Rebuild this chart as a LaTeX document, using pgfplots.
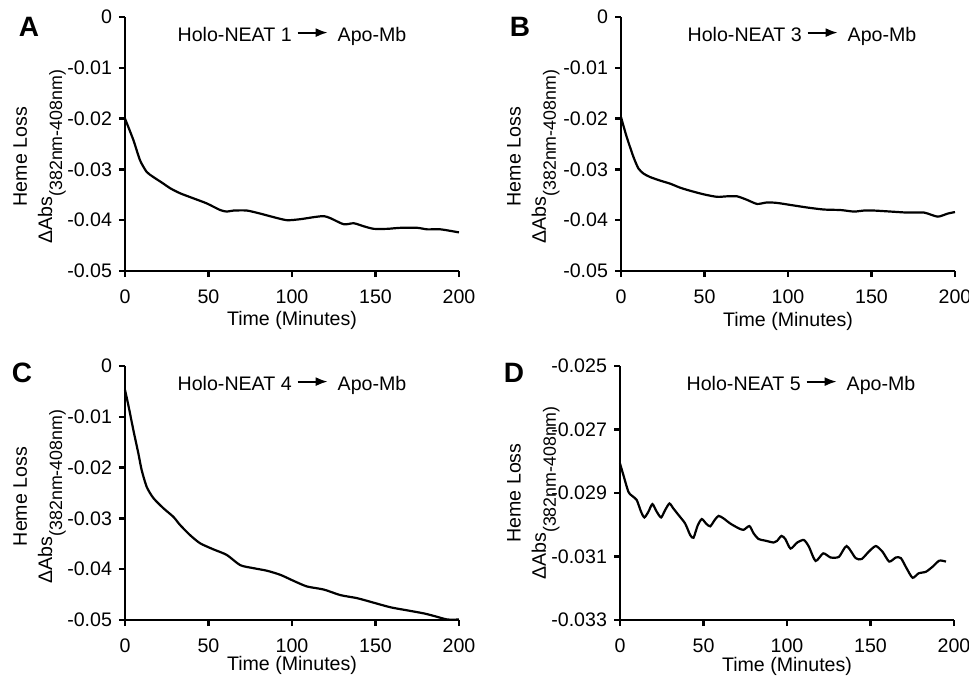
\documentclass[border=0pt]{standalone}
\usepackage{fontspec}
\setmainfont{Liberation Sans}
\usepackage{pgfplots}
\pgfplotsset{compat=1.18}
\usetikzlibrary{arrows.meta}

\newcommand{\fs}{\fontsize{9.8}{11.6}\selectfont}
\newcommand{\toarrow}{\hspace{2.5pt}\tikz[baseline=-4.5pt]\draw[line width=1pt,-{Latex[length=6pt,width=4.5pt]}](0,0)--(15pt,0);\hspace{4.5pt}}
\newcommand{\hemelabel}{Heme Loss\\[1pt]ΔAbs\raisebox{-5pt}{\fontsize{8.9}{10}\selectfont(382nm-408nm)}}

\pgfplotsset{
  every axis title shift=0pt,
  panel/.style={
    scale only axis, width=167pt, height=127pt,
    anchor=south west,
    axis lines=left, axis line style={-, line width=1.4pt},
    xmin=0, xmax=200,
    xtick={0,50,100,150,200}, xticklabels={0,50,100,150,200},
    scaled y ticks=false,
    tick align=outside, major tick length=3pt,
    tick style={line width=1.2pt, black},
    ticklabel style={font=\fs},
    xticklabel style={anchor=center, yshift=-10pt},
    xlabel={Time (Minutes)},
    ylabel={\hemelabel},
    label style={font=\fs},
    ylabel style={anchor=north, inner sep=0pt, align=center},
    title style={font=\fs, at={(0.5,1)}, anchor=north, inner sep=0pt, yshift=-5pt},
    clip=false,
  },
  ya/.style={ymin=-0.05, ymax=0,
    ytick={-0.05,-0.04,-0.03,-0.02,-0.01,0},
    yticklabels={-0.05,-0.04,-0.03,-0.02,-0.01,0}},
  curve/.style={black, line width=1.1pt, smooth, tension=0.4, mark=none},
}

\begin{document}
\begin{tikzpicture}
\useasboundingbox (0,0) rectangle (484.5pt,338.5pt);

% A
\begin{axis}[panel, ya, at={(62.5pt,203pt)},
  title={Holo-NEAT 1\toarrow Apo-Mb},
  xlabel style={at={(axis description cs:0.5,0)}, anchor=center, yshift=-24.5pt},
  ylabel style={at={(axis description cs:-0.335,0.45)}}]
\addplot[curve] coordinates {
(0,-0.0200) (5,-0.0242) (9,-0.0282) (13,-0.0305) (17,-0.0315) (23,-0.0328)
(27,-0.0337) (33,-0.0347) (41,-0.0357) (49,-0.0367) (57,-0.0380) (61,-0.0383)
(65,-0.0381) (73,-0.0381) (81,-0.0387) (89,-0.0394) (97,-0.0400) (105,-0.0398)
(113,-0.0394) (119,-0.0392) (123,-0.0396) (131,-0.0408) (137,-0.0406) (143,-0.0412)
(149,-0.0417) (157,-0.0417) (165,-0.0415) (175,-0.0415) (181,-0.0418) (189,-0.0418)
(200,-0.0424)};
\end{axis}

% B
\begin{axis}[panel, ya, at={(310.5pt,203pt)},
  title={Holo-NEAT 3\toarrow Apo-Mb}, title style={xshift=7pt},
  xlabel style={at={(axis description cs:0.5,0)}, anchor=center, yshift=-25pt},
  ylabel style={at={(axis description cs:-0.342,0.45)}}]
\addplot[curve] coordinates {
(0,-0.0197) (3.4,-0.0236) (7.4,-0.0275) (10.4,-0.0298) (13.4,-0.0308) (17.4,-0.0315)
(23.4,-0.0322) (29.4,-0.0328) (35.4,-0.0336) (41.4,-0.0342) (49.4,-0.0349) (57.5,-0.0354)
(63.5,-0.0353) (69.5,-0.0353) (75.5,-0.0360) (81.5,-0.0368) (87.5,-0.0365) (93.5,-0.0366)
(101.5,-0.0370) (111.5,-0.0375) (121.5,-0.0379) (131.5,-0.0380) (139.5,-0.0383) (145.5,-0.0381)
(151.5,-0.0381) (161.5,-0.0383) (171.5,-0.0385) (181.5,-0.0385) (189.6,-0.0393) (195.6,-0.0387)
(200,-0.0384)};
\end{axis}

% C
\begin{axis}[panel, ya, at={(62.5pt,28.5pt)},
  title={Holo-NEAT 4\toarrow Apo-Mb},
  xlabel style={at={(axis description cs:0.5,0)}, anchor=center, yshift=-22.5pt},
  ylabel style={at={(axis description cs:-0.335,0.486)}}]
\addplot[curve] coordinates {
(0,-0.0047) (2,-0.0077) (5,-0.0126) (8,-0.0172) (10,-0.0205) (13,-0.0238)
(17,-0.0260) (23,-0.0280) (29,-0.0297) (33,-0.0313) (39,-0.0333) (45,-0.0349)
(53,-0.0361) (61,-0.0372) (69,-0.0392) (77,-0.0398) (85,-0.0403) (93,-0.0411)
(101,-0.0423) (109,-0.0434) (119,-0.0440) (129,-0.0451) (139,-0.0457) (149,-0.0466)
(159,-0.0475) (169,-0.0481) (179,-0.0487) (185,-0.0492) (193,-0.0499) (200,-0.0499)};
\end{axis}

% D
\begin{axis}[panel, at={(310pt,28.5pt)},
  ymin=-0.033, ymax=-0.025,
  ytick={-0.033,-0.031,-0.029,-0.027,-0.025},
  yticklabels={-0.033,-0.031,-0.029,-0.027,-0.025},
  title={Holo-NEAT 5\toarrow Apo-Mb}, title style={xshift=7pt},
  xlabel style={at={(axis description cs:0.5,0)}, anchor=center, yshift=-23pt},
  ylabel style={at={(axis description cs:-0.339,0.50)}}]
\addplot[curve] coordinates {
(0,-0.02807) (2,-0.02843) (5,-0.02896) (7,-0.02908) (10,-0.02922) (12.6,-0.02959)
(14.6,-0.02977) (17,-0.02959) (19.4,-0.02935) (22,-0.02959) (24.6,-0.02977) (27,-0.02954)
(29.6,-0.02933) (32,-0.02949) (35,-0.02969) (39,-0.02996) (42,-0.03032) (44,-0.03041)
(46.6,-0.03001) (49,-0.02982) (51.5,-0.02996) (54,-0.03005) (56.7,-0.02985) (59,-0.02972)
(62,-0.02980) (66,-0.02996) (71,-0.03011) (74,-0.03016) (77.5,-0.03004) (80,-0.03027)
(83,-0.03045) (87,-0.03050) (92,-0.03056) (94,-0.03051) (96.7,-0.03035) (99,-0.03045)
(102.1,-0.03075) (106.1,-0.03056) (110.1,-0.03048) (113.1,-0.03069) (117.1,-0.03114)
(121.7,-0.03090) (126.1,-0.03103) (131.1,-0.03101) (135.7,-0.03067) (141.1,-0.03105)
(144.7,-0.03108) (149.1,-0.03084) (153.2,-0.03067) (157.2,-0.03085) (161.2,-0.03116)
(165.2,-0.03103) (168.2,-0.03105) (171.6,-0.03137) (175.2,-0.03167) (178.8,-0.03153)
(183.2,-0.03148) (187.2,-0.03132) (191.2,-0.03113) (195.2,-0.03116)};
\end{axis}

% panel letters
\node[font=\fontsize{14}{16}\selectfont\bfseries] at (14.5pt,325pt) {A};
\node[font=\fontsize{14}{16}\selectfont\bfseries] at (260pt,325pt) {B};
\node[font=\fontsize{14}{16}\selectfont\bfseries] at (11pt,152pt) {C};
\node[font=\fontsize{14}{16}\selectfont\bfseries] at (257pt,152pt) {D};
\end{tikzpicture}
\end{document}
